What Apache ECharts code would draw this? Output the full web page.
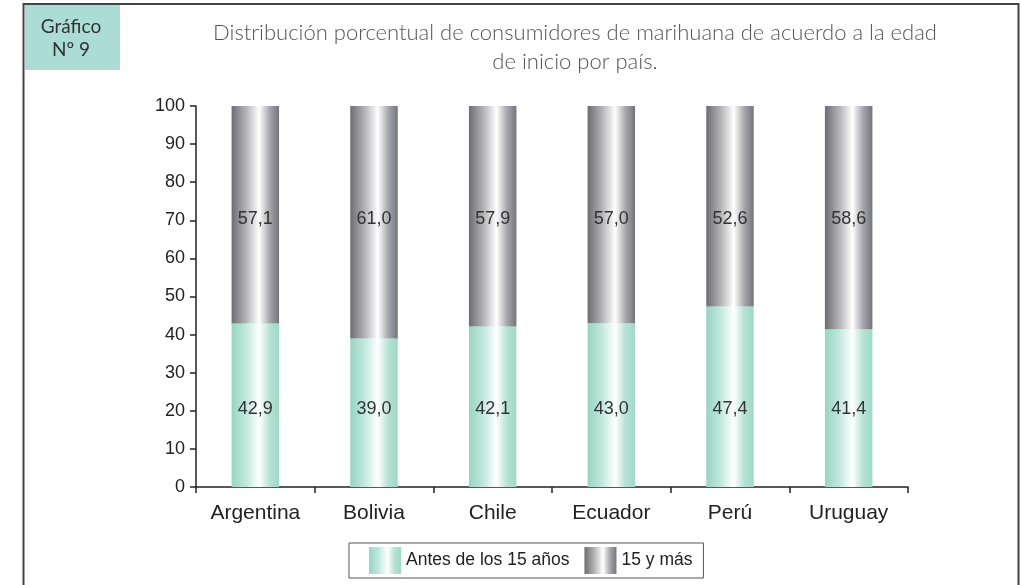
<!DOCTYPE html>
<html><head><meta charset="utf-8">
<script src="https://cdn.jsdelivr.net/npm/echarts@6/dist/echarts.min.js"></script>
<style>html,body{margin:0;padding:0;background:#fff}#c{width:1021px;height:585px}</style>
</head><body><div id="c"></div>
<script>
var categories = ['Argentina','Bolivia','Chile','Ecuador','Perú','Uruguay'];
var antes15 = [42.9, 39.0, 42.1, 43.0, 47.4, 41.4];
var mas15 = [57.1, 61.0, 57.9, 57.0, 52.6, 58.6];
var seriesNames = ['Antes de los 15 años', '15 y más'];
var yTicks = [0,10,20,30,40,50,60,70,80,90,100];

var tealG = new echarts.graphic.LinearGradient(0,0,1,0,[
  {offset:0, color:'#97d5c2'},{offset:0.3, color:'#c0e8dc'},
  {offset:0.58, color:'#ffffff'},{offset:0.8, color:'#b5e2d4'},{offset:1, color:'#9ed9c7'}]);
var grayG = new echarts.graphic.LinearGradient(0,0,1,0,[
  {offset:0, color:'#6c6c72'},{offset:0.3, color:'#b2b2b6'},
  {offset:0.58, color:'#ffffff'},{offset:0.8, color:'#a6a6ac'},{offset:1, color:'#74747c'}]);
function fmt(p){ return p.value.toFixed(1).replace('.', ','); }

var chart = echarts.init(document.getElementById('c'));
chart.setOption({
  animation:false,
  backgroundColor:'#fff',
  grid:{left:196, right:113, top:106, bottom:98},
  xAxis:{type:'category', data:categories,
    axisLine:{lineStyle:{color:'#222', width:1.5}},
    axisTick:{show:true, length:6, lineStyle:{color:'#222', width:1.5}},
    axisLabel:{color:'#222', fontFamily:'Liberation Sans', fontSize:21, margin:16}},
  yAxis:{type:'value', min:0, max:100, interval:10,
    axisLine:{show:true, lineStyle:{color:'#222', width:1.5}},
    axisTick:{show:true, length:6, lineStyle:{color:'#222', width:1.5}},
    splitLine:{show:false},
    axisLabel:{color:'#222', fontFamily:'Liberation Sans', fontSize:18, margin:11,
      formatter:function(v){ return yTicks.indexOf(v)>=0 ? String(v) : ''; }}},
  legend:{bottom:7, left:349, data:seriesNames, itemWidth:32, itemHeight:27, itemGap:15,
    icon:'rect', borderColor:'#555', borderWidth:1, borderRadius:0, padding:[4,11,4,20],
    textStyle:{color:'#222', fontFamily:'Liberation Sans', fontSize:17.5}},
  series:[
    {name:seriesNames[0], type:'bar', stack:'a', data:antes15, barWidth:'40%',
     itemStyle:{color:tealG},
     label:{show:true, position:'insideBottom', distance:69, formatter:fmt, color:'#333', fontFamily:'Liberation Sans', fontSize:18}},
    {name:seriesNames[1], type:'bar', stack:'a', data:mas15, barWidth:'40%',
     itemStyle:{color:grayG},
     label:{show:true, position:'insideTop', distance:104, formatter:fmt, color:'#333', fontFamily:'Liberation Sans', fontSize:18}}
  ],
  graphic:[
    {type:'rect', shape:{x:23.5, y:4, width:995, height:600}, style:{fill:'none', stroke:'#444', lineWidth:2}, silent:true},
    {type:'rect', shape:{x:25, y:5, width:95, height:65}, style:{fill:'#acddd3'}},
    {type:'text', style:{x:71, y:27, text:'Gráfico', textAlign:'center', textVerticalAlign:'middle', fill:'#333', font:'19px Lato'}},
    {type:'text', style:{x:71, y:50, text:'Nº 9', textAlign:'center', textVerticalAlign:'middle', fill:'#333', font:'19px Lato'}},
    {type:'text', style:{x:575, y:33, text:'Distribución porcentual de consumidores de marihuana de acuerdo a la edad', textAlign:'center', textVerticalAlign:'middle', fill:'#555', font:'300 22px Lato'}},
    {type:'text', style:{x:575, y:62, text:'de inicio por país.', textAlign:'center', textVerticalAlign:'middle', fill:'#555', font:'300 22px Lato'}}
  ]
});
</script></body></html>
